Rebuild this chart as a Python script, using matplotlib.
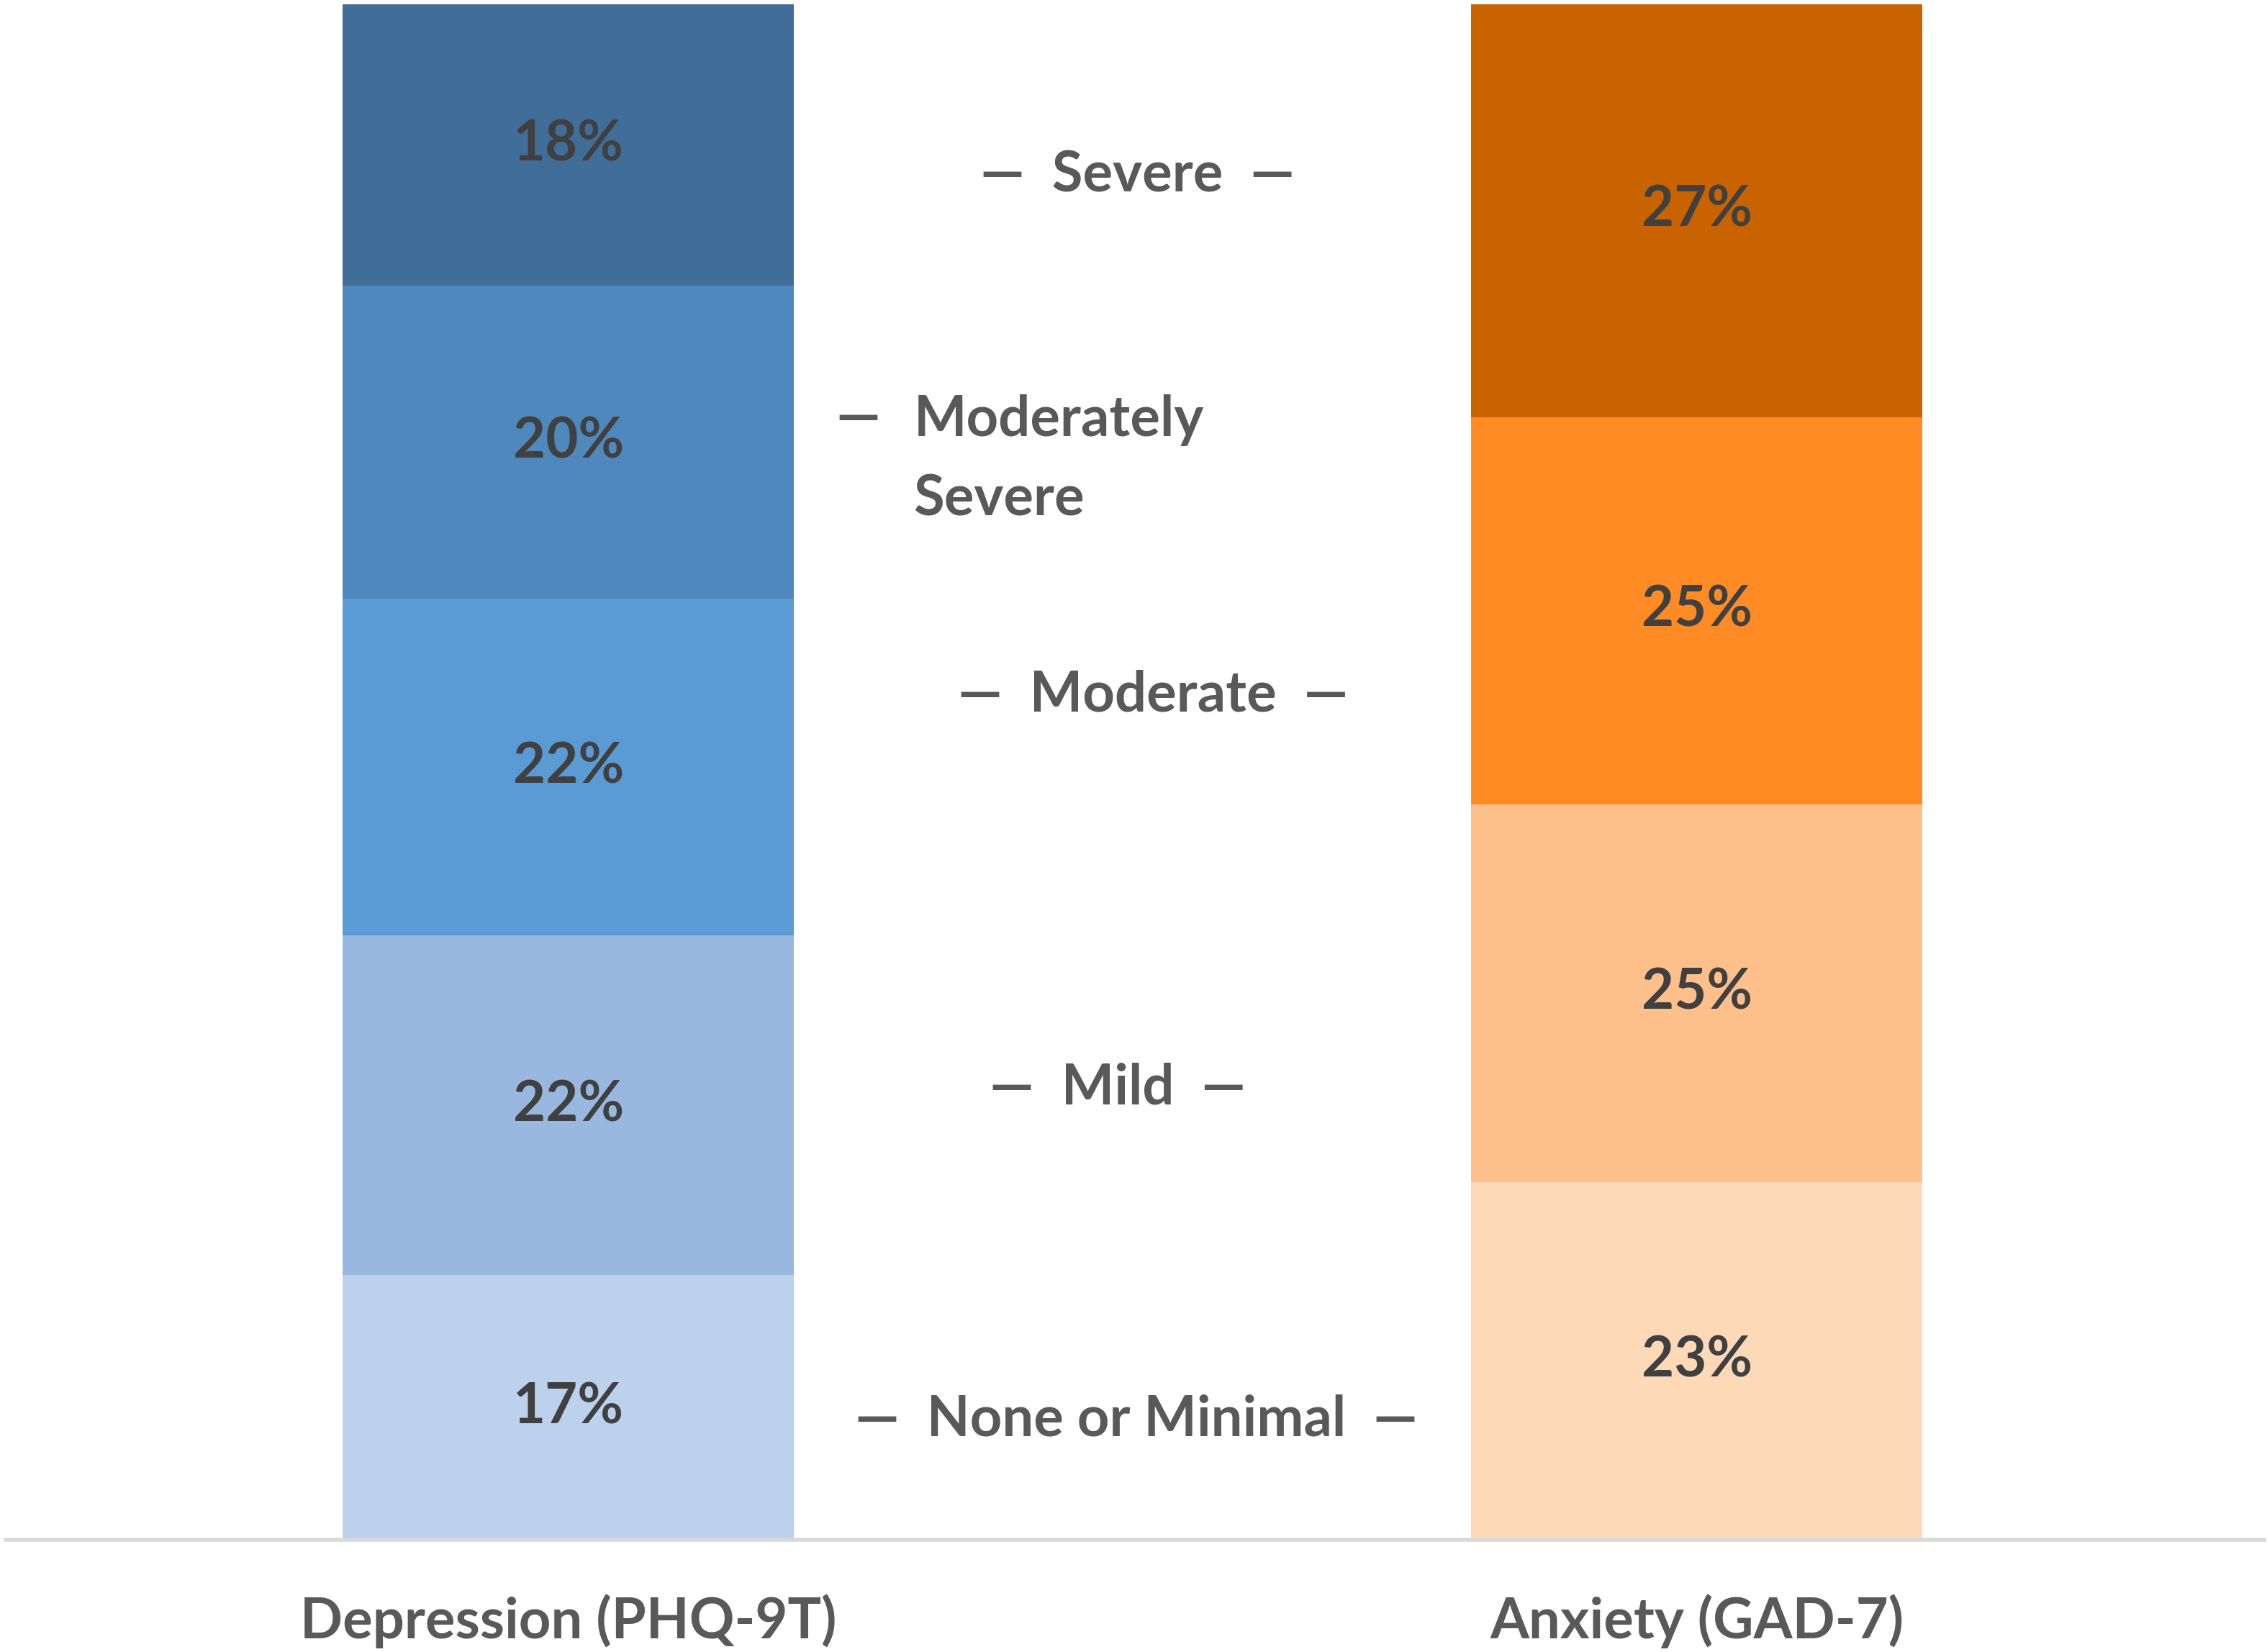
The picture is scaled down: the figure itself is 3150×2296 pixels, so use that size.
import numpy as np
import matplotlib.pyplot as plt

plt.rcParams['font.family'] = ['Lato', 'DejaVu Sans']

# severity levels, bottom to top
levels = ['None or Minimal', 'Mild', 'Moderate', 'Moderately\nSevere', 'Severe']
groups = ['Depression (PHQ-9T)', 'Anxiety (GAD-7)']

# percent of respondents per level (None ... Severe); GAD-7 has no "moderately severe"
dep_vals = [17.2, 22.1, 21.9, 20.4, 18.3]
anx_vals = [23.3, 24.6, 25.2, 26.9]

dep_colors = ['#BCD1EB', '#98B8E0', '#5B9BD5', '#4F88BD', '#416E99']
anx_colors = ['#FDD9B7', '#FDC08A', '#FE8B24', '#C96300']

# where the level names sit (x in bar units, y in percent)
lab_x = [0.503, 0.487, 0.518, 0.306, 0.504]
lab_y = [7.8, 29.4, 55.0, 70.3, 88.8]

FS = 28

fig = plt.figure(figsize=(15.75, 11.48), dpi=200)
ax = fig.add_axes([0.0025, 0.068, 0.9962, 0.9295])

def stack(x, vals, colors):
    vals = np.array(vals, dtype=float)
    share = vals / vals.sum() * 100
    bottom = 0.0
    for v, s, c in zip(vals, share, colors):
        ax.bar(x, s, width=0.40, bottom=bottom, color=c, edgecolor='none')
        ax.text(x, bottom + s / 2, '%.0f%%' % v, ha='center', va='center',
                fontsize=FS, fontweight='bold', color='#404040')
        bottom += s

stack(0, dep_vals, dep_colors)
stack(1, anx_vals, anx_colors)

for name, x, y in zip(levels, lab_x, lab_y):
    if '\n' in name:
        ax.text(x, y, name, ha='left', va='center', fontsize=FS,
                fontweight='bold', color='#595959', linespacing=1.66)
        ax.text(0.237, y + 2.7, '\u2014', ha='left', va='center', fontsize=FS,
                fontweight='bold', color='#595959')
    else:
        ax.text(x, y, '\u2014  ' + name + '  \u2014', ha='center', va='center',
                fontsize=FS, fontweight='bold', color='#595959')

ax.set_xlim(-0.4987, 1.5026)
ax.set_ylim(0, 100)
ax.set_xticks([0, 1])
ax.set_xticklabels(groups, fontsize=FS, fontweight='bold', color='#595959')
ax.tick_params(axis='x', length=0, pad=27)
ax.set_yticks([])
for s in ['top', 'left', 'right']:
    ax.spines[s].set_visible(False)
ax.spines['bottom'].set_color('#D9D9D9')
ax.spines['bottom'].set_linewidth(2)

fig.savefig('out.png', dpi=200)
